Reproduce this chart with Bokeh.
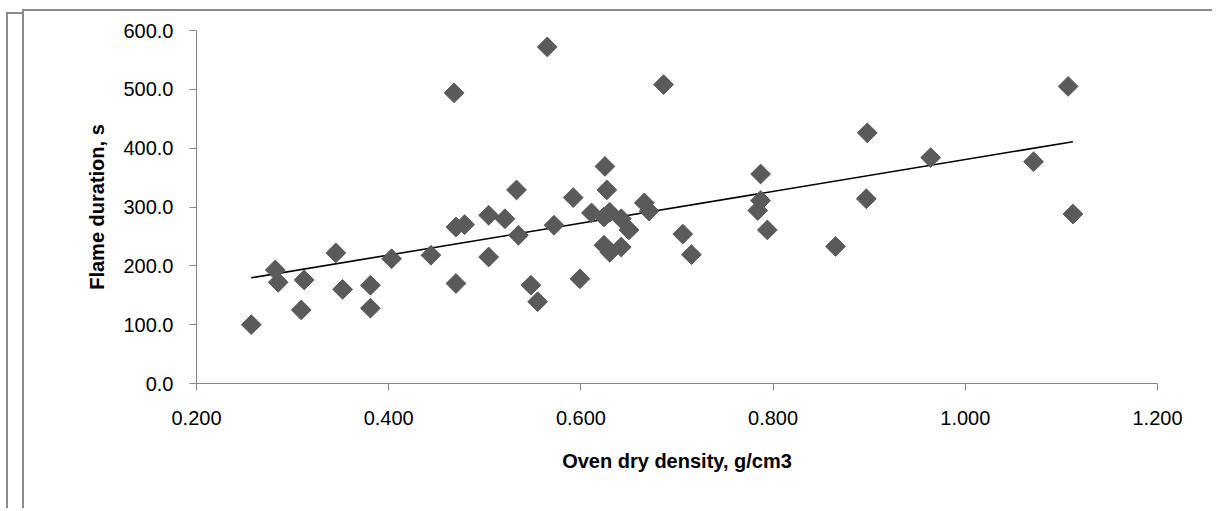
import numpy as np
from bokeh.plotting import figure
from bokeh.models import FixedTicker, NumeralTickFormatter, Range1d
from bokeh.embed import file_html
from bokeh.resources import INLINE

# Oven dry density (g/cm3) vs flame duration (s)
density = [0.257, 0.282, 0.285, 0.312, 0.309, 0.345, 0.352, 0.381, 0.381, 0.403,
           0.444, 0.468, 0.470, 0.479, 0.470, 0.504, 0.504, 0.521, 0.533, 0.535,
           0.548, 0.555, 0.565, 0.572, 0.592, 0.599, 0.611, 0.625, 0.627, 0.624,
           0.630, 0.624, 0.630, 0.642, 0.642, 0.650, 0.666, 0.671, 0.686, 0.706,
           0.715, 0.787, 0.787, 0.784, 0.794, 0.865, 0.898, 0.897, 0.964, 1.071,
           1.107, 1.112]
duration = [100, 193, 172, 176, 125, 222, 160, 167, 128, 212,
            218, 494, 266, 270, 170, 286, 215, 280, 329, 252,
            167, 139, 572, 269, 316, 178, 290, 369, 329, 283,
            291, 235, 223, 232, 280, 261, 307, 293, 508, 254,
            219, 356, 311, 294, 261, 233, 426, 314, 384, 377,
            505, 288]

# linear trend line (end points)
trend_x = [0.257, 1.112]
trend_y = [179.6, 411.0]

x_ticks = [0.2, 0.4, 0.6, 0.8, 1.0, 1.2]
y_ticks = [0, 100, 200, 300, 400, 500, 600]

p = figure(width=1212, height=508, output_backend="svg", toolbar_location=None,
           x_range=Range1d(0.2, 1.2), y_range=Range1d(0, 600),
           min_border_left=196, min_border_right=55, min_border_top=30,
           min_border_bottom=125)
p.outline_line_color = None
p.xgrid.visible = False
p.ygrid.visible = False
p.background_fill_color = "white"
p.border_fill_color = None

g = "linear-gradient(#8c8c8c, #8c8c8c)"
p.styles = {
    "background-color": "white",
    "background-image": ", ".join([g] * 4),
    "background-size": "2px 100%, 100% 2px, 2px 100%, 16px 2px",
    "background-position": "22px 9px, 22px 9px, 6px 12px, 6px 12px",
    "background-repeat": "no-repeat",
}

p.line(trend_x, trend_y, line_color="black", line_width=1.6)
p.scatter(density, duration, marker="square", angle=np.pi / 4, size=14,
          fill_color="#5a5a5a", line_color="#5a5a5a")

for ax, ticks, fmt in ((p.xaxis, x_ticks, "0.000"), (p.yaxis, y_ticks, "0.0")):
    ax.ticker = FixedTicker(ticks=ticks)
    ax.formatter = NumeralTickFormatter(format=fmt)
    ax.axis_line_color = "#868686"
    ax.major_tick_line_color = "#868686"
    ax.major_tick_out = 7
    ax.major_tick_in = 0
    ax.minor_tick_line_color = None
    ax.major_label_text_font = "Liberation Sans"
    ax.major_label_text_font_size = "20px"
    ax.major_label_text_color = "black"
    ax.axis_label_text_font = "Liberation Sans"
    ax.axis_label_text_font_size = "20px"
    ax.axis_label_text_font_style = "bold"
    ax.axis_label_text_color = "black"

p.xaxis.axis_label = "Oven dry density, g/cm3"
p.yaxis.axis_label = "Flame duration, s"
p.xaxis.major_label_standoff = 20
p.xaxis.axis_label_standoff = 22
p.yaxis.major_label_standoff = 16
p.yaxis.axis_label_standoff = 12

open("out.html", "w").write(file_html(p, INLINE))
